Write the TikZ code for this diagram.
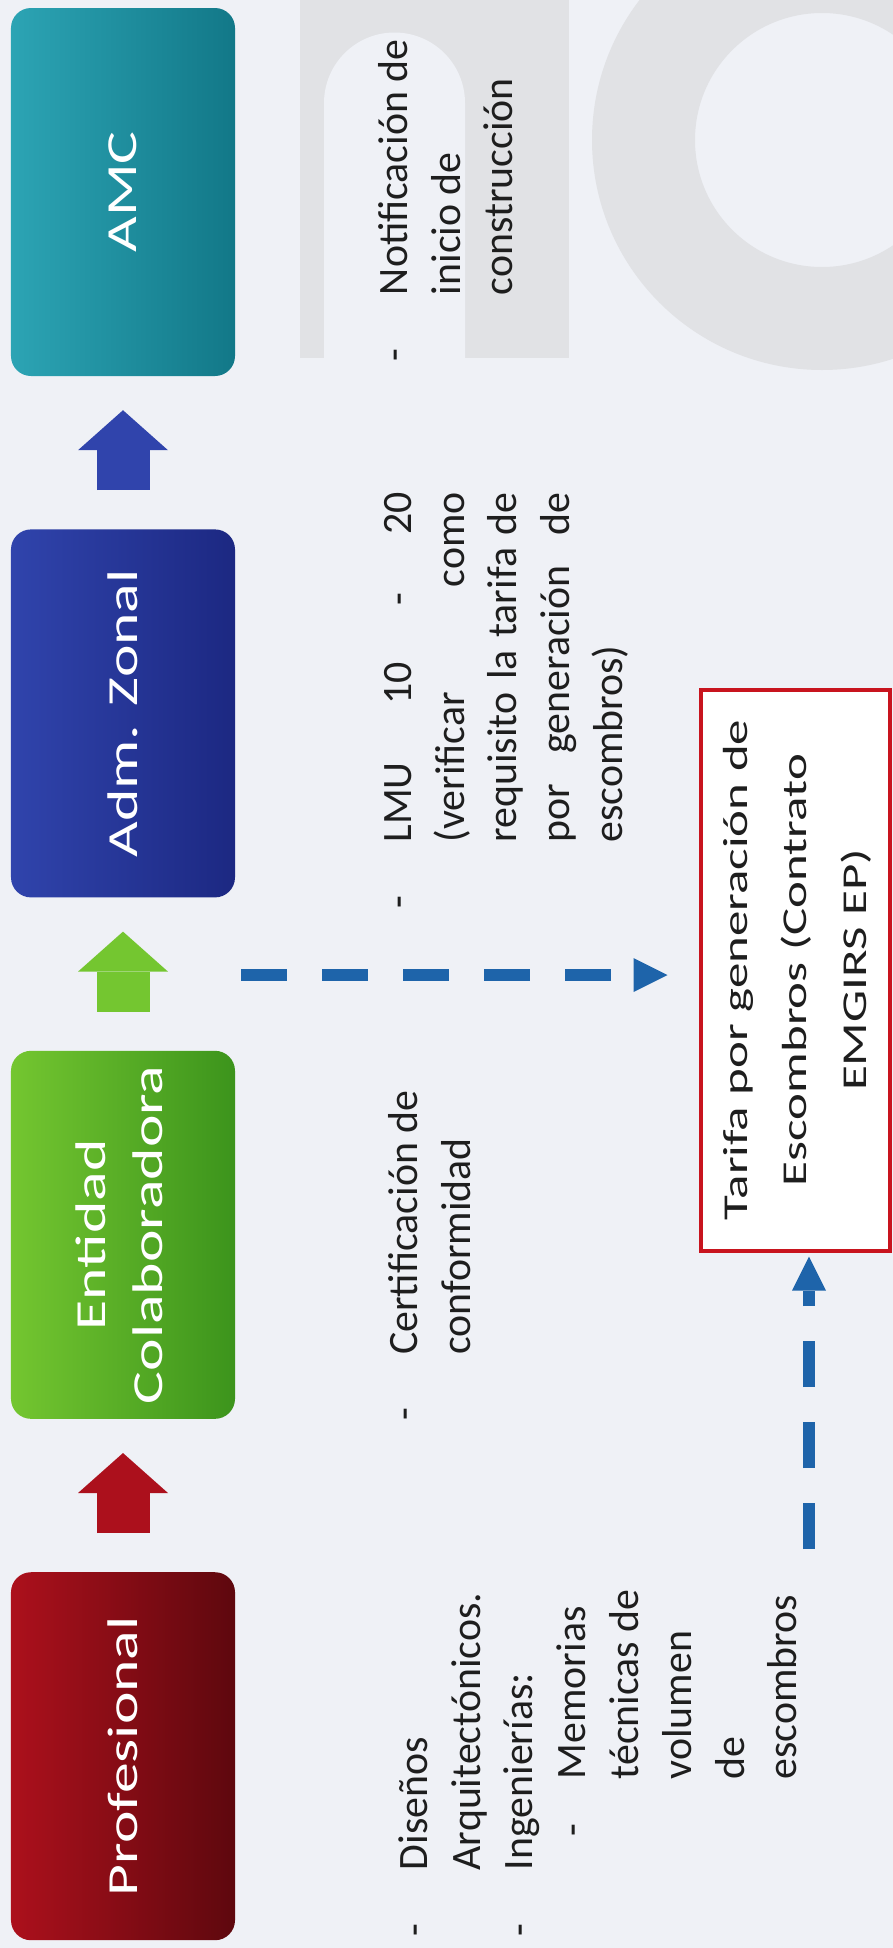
\documentclass[tikz,border=0pt]{standalone}
\usepackage{fontspec}
\setmainfont{Carlito}
\newfontfamily\stagefamily{Carlito}[FakeStretch=1.44]
\newfontfamily\tarifafamily{Carlito}[FakeStretch=1.46]
\usepackage{graphicx}
\usetikzlibrary{arrows.meta,positioning}

\definecolor{paper}{RGB}{239,241,246}
\definecolor{wmgray}{RGB}{225,226,229}
\definecolor{profred}{RGB}{172,16,28}
\definecolor{profdark}{RGB}{94,8,14}
\definecolor{entgreen}{RGB}{116,198,48}
\definecolor{entdark}{RGB}{60,148,28}
\definecolor{admblue}{RGB}{48,68,172}
\definecolor{admdark}{RGB}{28,40,130}
\definecolor{amcteal}{RGB}{44,164,180}
\definecolor{amcdark}{RGB}{18,120,136}
\definecolor{dashblue}{RGB}{30,100,170}
\definecolor{tarifared}{RGB}{200,20,30}
\definecolor{notetext}{RGB}{30,30,30}

\newcommand{\titlefont}{\stagefamily\fontsize{43}{57}\selectfont}
\newcommand{\notefont}{\fontsize{42}{53}\selectfont}
\newcommand{\tarifafont}{\tarifafamily\fontsize{35}{60}\selectfont}

\begin{document}
\begin{tikzpicture}[
    x=1bp, y=1bp,
    node distance=153bp,
    stage/.style={rectangle, rounded corners=20bp, minimum width=224bp, minimum height=368bp, inner sep=0pt, text=white, font=\titlefont},
    notes/.style={inner sep=0pt, text=notetext, font=\notefont},
    tarifabox/.style={rectangle, draw=tarifared, line width=4bp, fill=white, minimum width=189bp, minimum height=561bp, inner sep=0pt, text=notetext, font=\tarifafont},
    blockarrow/.style={line width=53bp, -{Triangle[width=90bp, length=40bp, line width=0pt]}, shorten <=39bp, shorten >=34bp},
    dasharrow/.style={draw=dashblue, line width=12bp, dash pattern=on 46bp off 35bp, -{Triangle[width=34bp, length=34bp, line width=0pt]}}
]

% Background and watermark
\fill[paper] (0,0) rectangle (893,-1948);
\useasboundingbox (0,0) rectangle (893,-1948);
\fill[wmgray] (300,0) rectangle (569,-358);
\fill[paper] (324,-420) -- (324,-103) arc[start angle=180, end angle=0, radius=70.5] -- (465,-420) -- cycle;
\fill[wmgray, even odd rule] (822,-140) circle[radius=230] (822,-140) circle[radius=127];

% Stages
\node[stage, left color=amcteal, right color=amcdark] (amc) at (123,-192) {\rotatebox{90}{AMC}};
\node[stage, left color=admblue, right color=admdark, below=of amc] (adm) {\rotatebox{90}{Adm. Zonal}};
\node[stage, left color=entgreen, right color=entdark, below=of adm] (ent) {\rotatebox{90}{\begin{tabular}{@{}c@{}}Entidad\\Colaboradora\end{tabular}}};
\node[stage, left color=profred, right color=profdark, below=of ent] (prof) {\rotatebox{90}{Profesional}};

% Arrows between stages
\draw[blockarrow, draw=profred] (prof) -- (ent);
\draw[blockarrow, draw=entgreen] (ent) -- (adm);
\draw[blockarrow, draw=admblue] (adm) -- (amc);

% Notes
\node[notes, above right=4bp and 155bp of prof.south east] (profnotes) {\rotatebox{90}{\begin{tabular}{@{}l@{}}
\makebox[66bp][l]{-}Diseños\\
\hspace*{66bp}Arquitectónicos.\\
\makebox[66bp][l]{-}Ingenierías:\\
\hspace*{100bp}\makebox[57bp][l]{-}Memorias\\
\hspace*{157bp}técnicas de\\
\hspace*{157bp}volumen\\
\hspace*{157bp}de\\
\hspace*{157bp}escombros
\end{tabular}}};
\node[notes, above right=-2bp and 145bp of ent.south east] (entnotes) {\rotatebox{90}{\begin{tabular}{@{}l@{}}
\makebox[66bp][l]{-}Certificación de\\
\hspace*{66bp}conformidad
\end{tabular}}};
\node[notes, above right=-11bp and 139bp of adm.south east] (admnotes) {\rotatebox{90}{\begin{tabular}{@{}l@{}}
\makebox[66bp][l]{-}\makebox[350bp][s]{LMU 10 - 20}\\
\hspace*{66bp}\makebox[350bp][s]{(verificar como}\\
\hspace*{66bp}\makebox[350bp][s]{requisito la tarifa de}\\
\hspace*{66bp}\makebox[350bp][s]{por generación de}\\
\hspace*{66bp}escombros)
\end{tabular}}};
\node[notes, above right=15bp and 135bp of amc.south east] (amcnotes) {\rotatebox{90}{\begin{tabular}{@{}l@{}}
\makebox[66bp][l]{-}Notificación de\\
\hspace*{66bp}inicio de\\
\hspace*{66bp}construcción
\end{tabular}}};

% Tarifa box
\node[tarifabox] (tarifa) at (795,-970) {\rotatebox{90}{\begin{tabular}{@{}c@{}}Tarifa por generación de\\Escombros (Contrato\\EMGIRS EP)\end{tabular}}};

% Dashed arrows
\coordinate (dashstart) at (241,-975);
\coordinate (dashfoot) at (809,-1549);
\draw[dasharrow, shorten >=31bp] (dashstart) -- (dashstart -| tarifa.west);
\draw[dasharrow, shorten >=4bp] (dashfoot) -- (dashfoot |- tarifa.south);

\end{tikzpicture}
\end{document}
